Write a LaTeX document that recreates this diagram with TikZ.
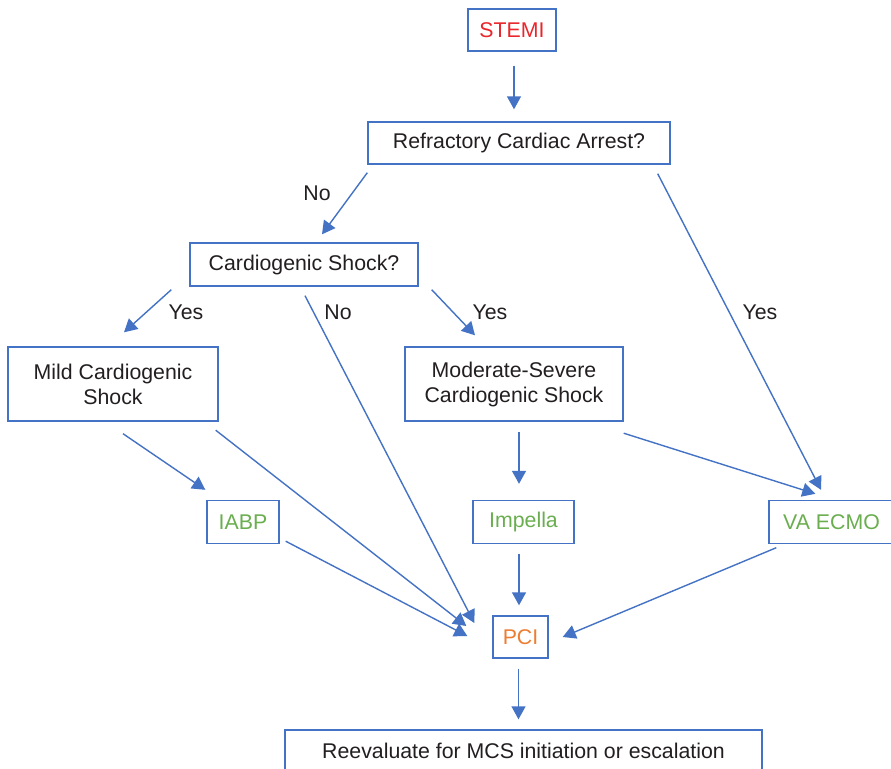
\documentclass[tikz,border=0pt]{standalone}
\usepackage{fontspec}
\setmainfont{Liberation Sans}
\usetikzlibrary{arrows.meta}
\definecolor{linkblue}{HTML}{4472C4}
\definecolor{txtdark}{HTML}{231F20}
\definecolor{stemired}{HTML}{E8262B}
\definecolor{devgreen}{HTML}{6AAE4F}
\definecolor{pciorange}{HTML}{ED7D31}
\begin{document}
\begin{tikzpicture}[x=1pt,y=-1pt,
  box/.style={draw=linkblue,line width=1.4pt,rectangle,inner sep=0pt,
    align=center,text=txtdark,font=\fontsize{21.3}{25}\selectfont},
  lbl/.style={text=txtdark,font=\fontsize{21.3}{25}\selectfont,inner sep=0pt},
  arr/.style={draw=linkblue,line width=1.4pt,-{Triangle[length=13pt,width=14pt]}}]
\useasboundingbox (0,0) rectangle (891,768);
\clip (0,0) rectangle (891,768);
\fill[white] (0,0) rectangle (891,768);

% boxes
\node[box,minimum width=88,minimum height=42,text=stemired] (stemi) at (512,30) {STEMI};
\node[box,minimum width=302,minimum height=42] (ref) at (519,143) {Refractory Cardiac Arrest?};
\node[box,minimum width=228,minimum height=43] (cs) at (304,264.5) {Cardiogenic Shock?};
\node[box,minimum width=210,minimum height=74] (mild) at (113,384) {Mild Cardiogenic\\Shock};
\node[box,minimum width=218,minimum height=74] (mod) at (514,384) {Moderate-Severe\\Cardiogenic Shock};
\node[box,minimum width=72,minimum height=43,text=devgreen] (iabp) at (243,522) {IABP};
\node[box,minimum width=101,minimum height=43,text=devgreen] (impella) at (523.5,522) {Impella};
\node[box,minimum width=125,minimum height=43,text=devgreen] (vaecmo) at (831.5,522) {VA ECMO};
\node[box,minimum width=55,minimum height=42,text=pciorange] (pci) at (520.5,637) {PCI};
\node[box,minimum width=477,minimum height=42] (reeval) at (523.5,751) {Reevaluate for MCS initiation or escalation};

% branch labels
\node[lbl] (lno1) at (317,193) {No};
\node[lbl] (lyes1) at (186,312) {Yes};
\node[lbl] (lno2) at (338,312) {No};
\node[lbl] (lyes2) at (490,312) {Yes};
\node[lbl] (lyes3) at (760,312) {Yes};

% connectors
\draw[arr] ([shift={(2,14)}]stemi.south) -- ([shift={(-5,-12)}]ref.north);
\draw[arr] ([shift={(0,8)}]ref.south west) -- ([shift={(18,-8)}]cs.north);
\draw[arr] ([shift={(-13,9)}]ref.south east) -- ([shift={(-10.5,-10)}]vaecmo.north);
\draw[arr] ([shift={(-18,3)}]cs.south west) -- ([shift={(11,-14)}]mild.north);
\draw[arr] ([shift={(1,9)}]cs.south) -- ([shift={(-18,-14)}]pci.west);
\draw[arr] ([shift={(13,3)}]cs.south east) -- ([shift={(-39,-11)}]mod.north);
\draw[arr] ([shift={(10,12)}]mild.south) -- ([shift={(-1,-10)}]iabp.north west);
\draw[arr] ([shift={(-3,8.5)}]mild.south east) -- ([shift={(-26,-11)}]pci.west);
\draw[arr] ([shift={(5,10.5)}]mod.south) -- ([shift={(-4.5,-16)}]impella.north);
\draw[arr] ([shift={(0,11.5)}]mod.south east) -- ([shift={(47,-6)}]vaecmo.north west);
\draw[arr] ([shift={(6,-3)}]iabp.south east) -- ([shift={(-25,-1)}]pci.west);
\draw[arr] ([shift={(-4.5,9.5)}]impella.south) -- ([shift={(-1.5,-10)}]pci.north);
\draw[arr] ([shift={(8,3.5)}]vaecmo.south west) -- ([shift={(14,0)}]pci.east);
\draw[arr] ([shift={(-2,10)}]pci.south) -- ([shift={(-5,-10)}]reeval.north);
\end{tikzpicture}
\end{document}
